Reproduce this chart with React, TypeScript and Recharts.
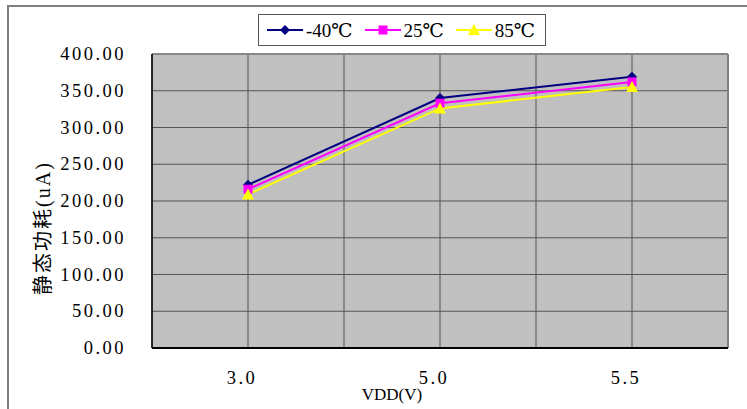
import { LineChart, Line, XAxis, YAxis, CartesianGrid, ReferenceLine } from "recharts";

const vddLabels = ["3.0", "5.0", "5.5"];
const currentMinus40 = [222, 340, 369];
const current25 = [216, 333, 362];
const current85 = [209, 326, 355];
const yTicks = [0, 50, 100, 150, 200, 250, 300, 350, 400];
// band edges and centres of the three categories
const xTicks = [0, 0.5, 1, 1.5, 2, 2.5, 3];

type MarkerType = "diamond" | "square" | "triangle";

const series: { key: string; name: string; values: number[]; color: string; marker: MarkerType }[] = [
  { key: "tMinus40", name: "-40℃", values: currentMinus40, color: "#000080", marker: "diamond" },
  { key: "t25", name: "25℃", values: current25, color: "#FF00FF", marker: "square" },
  { key: "t85", name: "85℃", values: current85, color: "#FFFF00", marker: "triangle" },
];

const data = vddLabels.map((vdd, i) => {
  const row: Record<string, number | string> = { pos: i + 0.5, vdd };
  series.forEach((s) => {
    row[s.key] = s.values[i];
  });
  return row;
});

const SERIF = "Liberation Serif, DejaVu Serif, Noto Sans CJK SC, serif";

function Marker({ cx, cy, type, color }: { cx: number; cy: number; type: MarkerType; color: string }) {
  if (type === "diamond") {
    return <polygon points={`${cx},${cy - 5} ${cx + 5},${cy} ${cx},${cy + 5} ${cx - 5},${cy}`} fill={color} />;
  }
  if (type === "square") {
    return <rect x={cx - 4.5} y={cy - 4.5} width={9} height={9} fill={color} />;
  }
  return <polygon points={`${cx},${cy - 6} ${cx + 6},${cy + 5} ${cx - 6},${cy + 5}`} fill={color} />;
}

function YTick(props: any) {
  const { x, y, payload } = props;
  return (
    <text x={x} y={y + 6} textAnchor="end" fontSize={18.5} style={{ fontFamily: SERIF, fontSize: 18.5, letterSpacing: 2.5 }} fill="#000">
      {Number(payload.value).toFixed(2)}
    </text>
  );
}

function XTick(props: any) {
  const { x, y, payload } = props;
  const row = data.find((d) => d.pos === payload.value);
  if (!row) return null;
  return (
    <text x={x - 6} y={y + 13} textAnchor="middle" fontSize={18.5} style={{ fontFamily: SERIF, fontSize: 18.5, letterSpacing: 2.5 }} fill="#000">
      {String(row.vdd)}
    </text>
  );
}

function ChartLegend() {
  return (
    <div
      style={{
        position: "absolute",
        left: 258,
        top: 14,
        width: 278,
        height: 30,
        border: "1px solid #555",
        background: "#fff",
        display: "flex",
        alignItems: "center",
        paddingLeft: 8,
        boxSizing: "content-box",
        fontFamily: SERIF,
        fontSize: 19,
        color: "#000",
      }}
    >
      {series.map((s) => (
        <div key={s.key} style={{ display: "flex", alignItems: "center", marginRight: 12 }}>
          <svg width={36} height={16} style={{ marginRight: 3 }}>
            <line x1={0} y1={8} x2={36} y2={8} stroke={s.color} strokeWidth={2} />
            <Marker cx={18} cy={8} type={s.marker} color={s.color} />
          </svg>
          <span>{s.name}</span>
        </div>
      ))}
    </div>
  );
}

export default function App() {
  return (
    <div style={{ position: "absolute", left: 0, top: 0, width: 747, height: 409, background: "#fff" }}>
      <div
        style={{
          position: "absolute",
          left: 7,
          top: 5,
          width: 738,
          height: 402,
          borderTop: "2px solid #7f7f7f",
          borderLeft: "2px solid #7f7f7f",
        }}
      />
      <div style={{ position: "absolute", left: 0, top: 0 }}>
        <LineChart width={747} height={409} data={data} margin={{ top: 54, right: 19, left: 52, bottom: 31 }}>
          <CartesianGrid stroke="#555" fill="#C0C0C0" fillOpacity={1} />
          <ReferenceLine x={3} stroke="#808080" strokeWidth={2} />
          <ReferenceLine y={400} stroke="#808080" strokeWidth={1.5} />
          <XAxis
            dataKey="pos"
            type="number"
            domain={[0, 3]}
            ticks={xTicks}
            interval={0}
            height={30}
            tickLine={false}
            tickSize={0}
            tickMargin={23}
            axisLine={{ stroke: "#000", strokeWidth: 2 }}
            tick={<XTick />}
            label={{
              content: (props: any) => {
                const vb = props.viewBox;
                return (
                  <text x={vb.x + vb.width / 2 - 48} y={vb.y + 52} textAnchor="middle" fontSize={17} style={{ fontFamily: SERIF, fontSize: 17 }} fill="#000">
                    VDD(V)
                  </text>
                );
              },
            }}
          />
          <YAxis
            type="number"
            domain={[0, 400]}
            ticks={yTicks}
            interval={0}
            width={100}
            tickLine={false}
            tickSize={0}
            tickMargin={26}
            axisLine={{ stroke: "#000", strokeWidth: 1.5 }}
            tick={<YTick />}
            label={{
              content: (props: any) => {
                const vb = props.viewBox;
                const x = vb.x - 9;
                const y = vb.y + vb.height / 2 + 27;
                return (
                  <text
                    x={x}
                    y={y}
                    transform={`rotate(-90 ${x} ${y})`}
                    textAnchor="middle"
                    dominantBaseline="central"
                    fontSize={20}
                    style={{ fontFamily: SERIF, fontSize: 20, letterSpacing: 2 }}
                    fill="#000"
                  >
                    静态功耗(uA)
                  </text>
                );
              },
            }}
          />
          {series.map((s) => (
            <Line
              key={s.key}
              dataKey={s.key}
              name={s.name}
              type="linear"
              stroke={s.color}
              strokeWidth={2}
              isAnimationActive={false}
              activeDot={false}
              dot={(p: any) => <Marker key={`${s.key}-${p.index}`} cx={p.cx} cy={p.cy} type={s.marker} color={s.color} />}
            />
          ))}
        </LineChart>
      </div>
      <ChartLegend />
    </div>
  );
}
